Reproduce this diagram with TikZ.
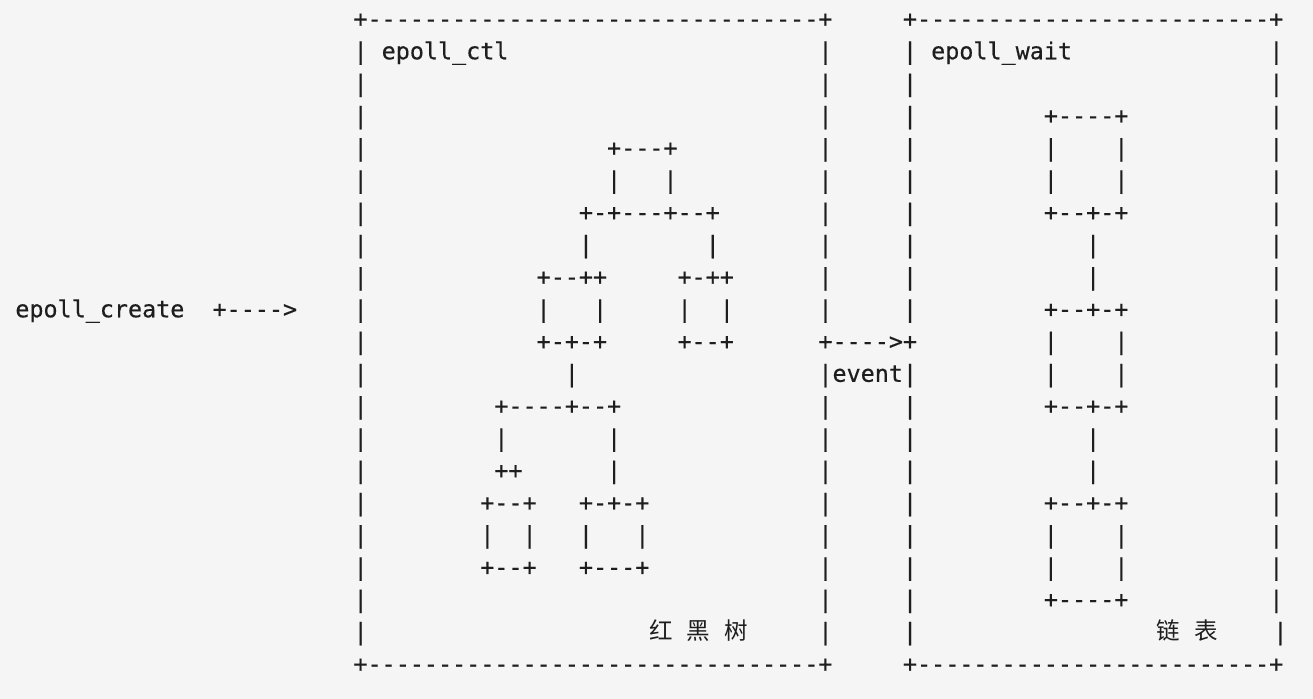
\documentclass[tikz,border=0pt]{standalone}
\usepackage{fontspec}
\setmonofont{DejaVu Sans Mono}[FakeBold=0.4]
\newfontfamily\cjkfont{Noto Sans CJK SC}
\usepackage{xcolor}
\definecolor{ink}{HTML}{1E1E1E}
\definecolor{paper}{HTML}{F5F5F5}
\newlength\colw
\setlength\colw{7.045pt}

\begin{document}
\begin{tikzpicture}[x=7.045pt, y=-16.125pt,
					ascii/.style={font=\ttfamily\fontsize{11.7pt}{14pt}\selectfont, text=ink, inner sep=0pt, anchor=base west},
					hanzi/.style={font=\cjkfont\fontsize{11.75pt}{14pt}\selectfont, text=ink, inner sep=0pt, anchor=base west}]
    \fill[paper] (-1.561,-0.558) rectangle (91.63,21.116);
    % Place nodes
    \node [ascii] (create) at (-0.5,9.28) {epoll\_create};
    \node [ascii] (toctl) at (13.5,9.28) {+---->};
    \node [ascii] (ctl) at (25.5,1.28) {epoll\_ctl};
    \node [ascii] (wait) at (64.5,1.28) {epoll\_wait};
    \node [ascii] (toevent) at (56.5,10.28) {+---->+};
    \node [ascii] (event) at (57.5,11.28) {event};
    \node [hanzi] (rbt) at (44.5,19.28) {红\hspace{\colw}黑\hspace{\colw}树};
    \node [hanzi] (list) at (80.5,19.28) {链\hspace{\colw}表};
    % Boxes
    \node [ascii] (ctltop) at (23.5,0.28) {+--------------------------------+};
    \node [ascii] (ctlbot) at (23.5,20.28) {+--------------------------------+};
    \node [ascii] (waittop) at (62.5,0.28) {+-------------------------+};
    \node [ascii] (waitbot) at (62.5,20.28) {+-------------------------+};
    \foreach \r in {1,...,19}
        \node [ascii] (ctlleft-\r) at (23.5,\r+0.28) {|};
    \foreach \r in {1,...,9,11,12,...,19}{
        \node [ascii] (ctlright-\r) at (56.5,\r+0.28) {|};
        \node [ascii] (waitleft-\r) at (62.5,\r+0.28) {|};
    }
    \foreach \r in {1,...,18}
        \node [ascii] (waitright-\r) at (88.5,\r+0.28) {|};
    \node [ascii] (waitright-19) at (88.78,19.28) {|};
    % Tree
    \foreach \c/\r/\t in {42/4/{+---+}, 42/5/|, 46/5/|, 40/6/{+-+---+--+}, 40/7/|, 49/7/|,
                          37/8/{+--++}, 47/8/{+-++}, 37/9/|, 41/9/|, 47/9/|, 50/9/|,
                          37/10/{+-+-+}, 47/10/{+--+}, 39/11/|, 34/12/{+----+--+},
                          34/13/|, 42/13/|, 34/14/{++}, 42/14/|, 33/15/{+--+}, 40/15/{+-+-+},
                          33/16/|, 36/16/|, 40/16/|, 44/16/|, 33/17/{+--+}, 40/17/{+---+}}
        \node [ascii] (t-\r-\c) at (\c-0.5,\r+0.28) {\t};
    % List
    \foreach \c/\r/\t in {73/3/{+----+}, 73/4/|, 78/4/|, 73/5/|, 78/5/|, 73/6/{+--+-+},
                          76/7/|, 76/8/|, 73/9/{+--+-+}, 73/10/|, 78/10/|, 73/11/|, 78/11/|,
                          73/12/{+--+-+}, 76/13/|, 76/14/|, 73/15/{+--+-+},
                          73/16/|, 78/16/|, 73/17/|, 78/17/|, 73/18/{+----+}}
        \node [ascii] (k-\r-\c) at (\c-0.5,\r+0.28) {\t};
\end{tikzpicture}
\end{document}
